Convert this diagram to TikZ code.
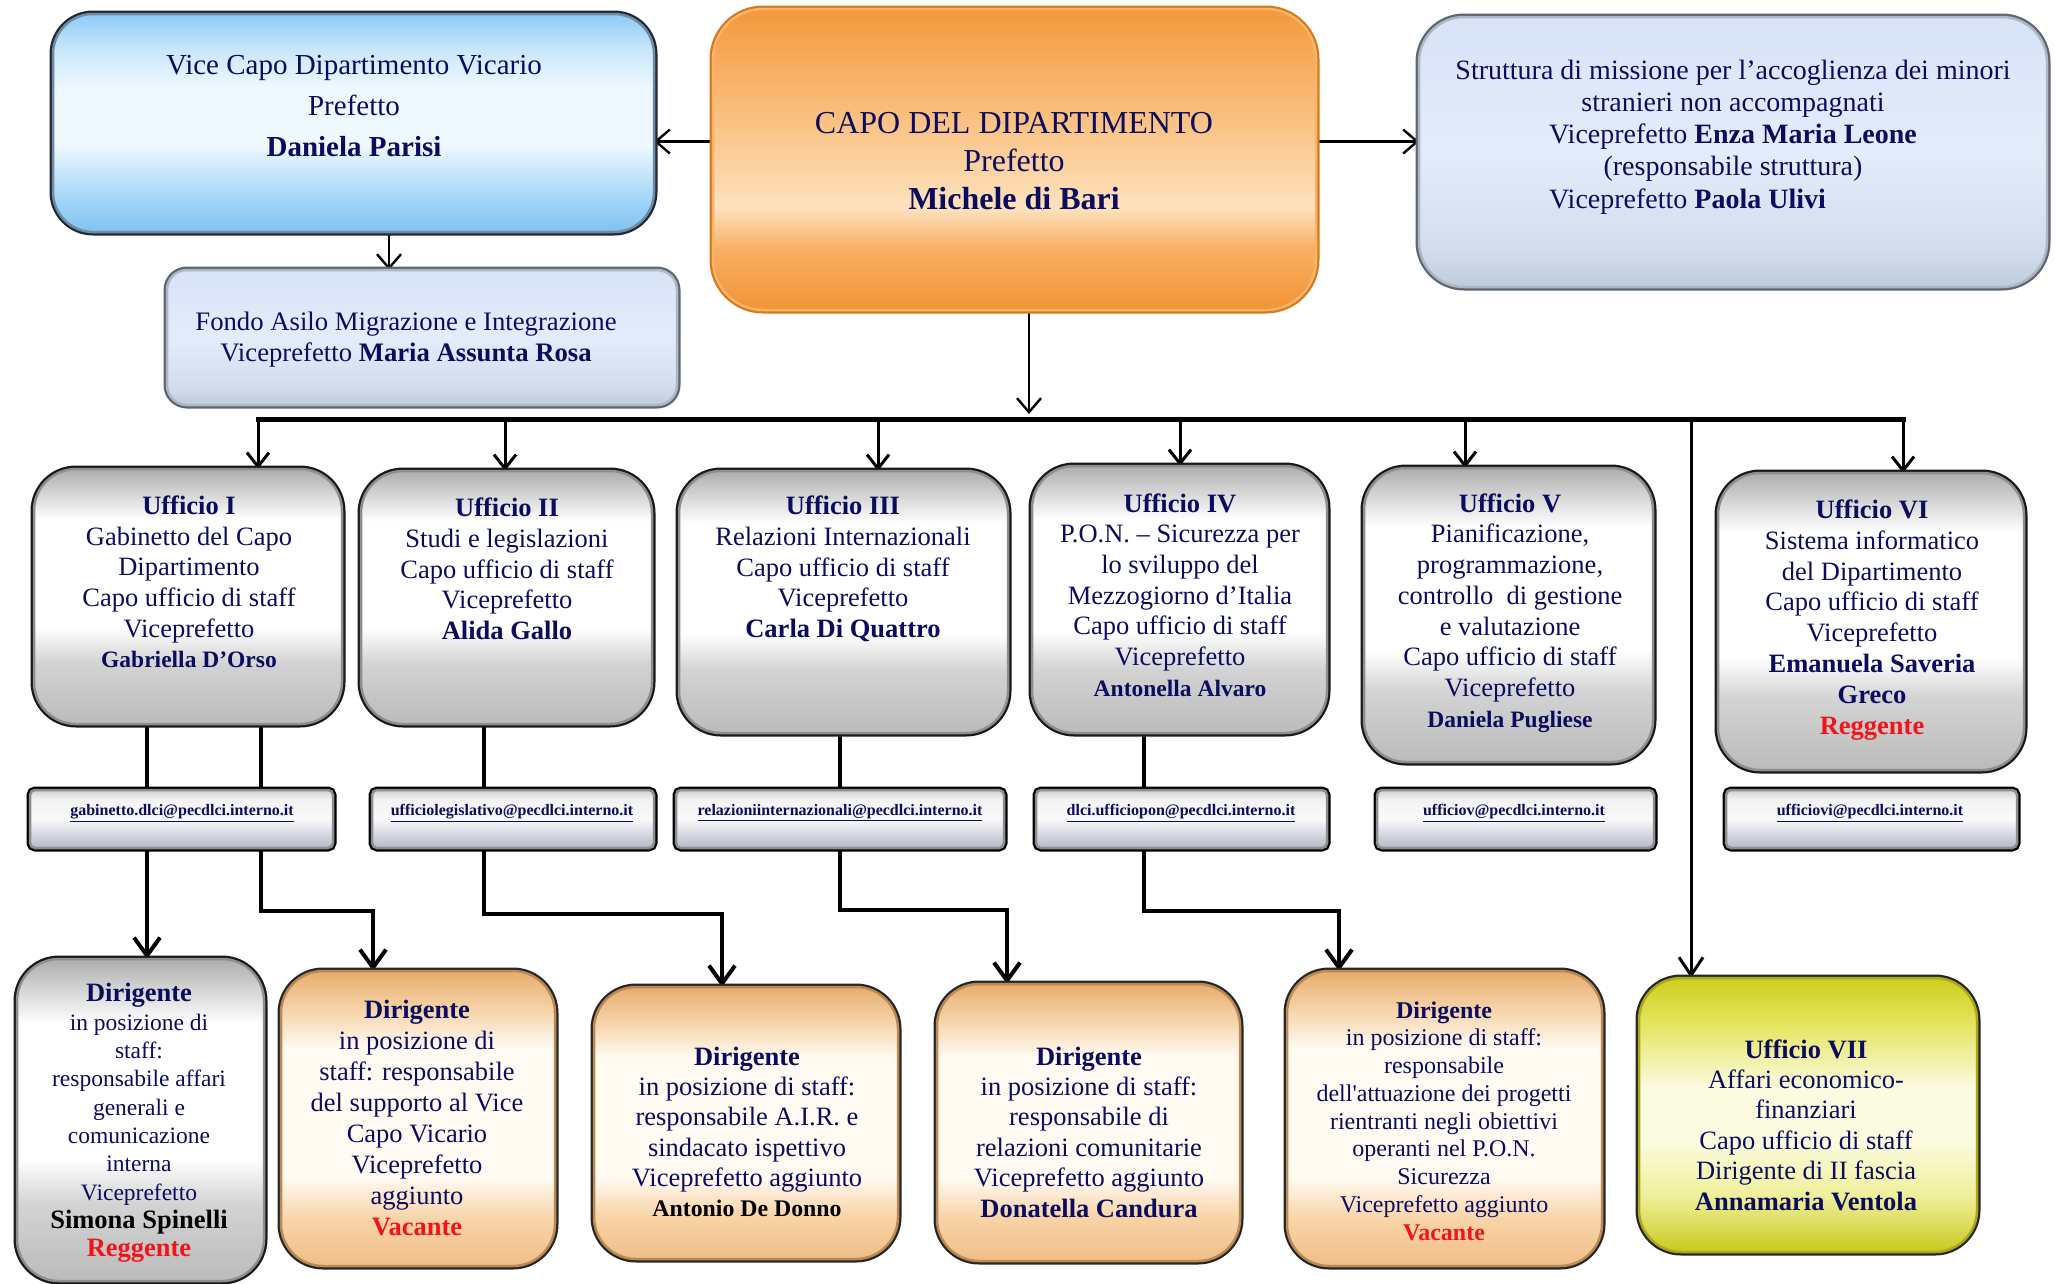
\documentclass[tikz,border=0pt]{standalone}
\usepackage{fontspec}
\setmainfont{Liberation Serif}
\usetikzlibrary{arrows.meta}
\pgfdeclarelayer{back}
\pgfdeclarelayer{conn}
\pgfsetlayers{back,conn,main}

\definecolor{navy}{HTML}{0C0C5E}
\definecolor{redtxt}{HTML}{F2141B}
% silver
\definecolor{svA}{HTML}{ADADAD}
\definecolor{svB}{HTML}{CFCFCF}
\definecolor{svC}{HTML}{FFFFFF}
\definecolor{svD}{HTML}{D3D3D3}
\definecolor{svE}{HTML}{BBBBBB}
% tan (dirigenti)
\definecolor{tnA}{HTML}{E6AD6C}
\definecolor{tnB}{HTML}{F7D6AE}
\definecolor{tnC}{HTML}{FFFAF2}
\definecolor{tnD}{HTML}{F8D4A8}
\definecolor{tnE}{HTML}{F0BE86}
% orange (capo)
\definecolor{orA}{HTML}{F4983C}
\definecolor{orB}{HTML}{F9BE7C}
\definecolor{orC}{HTML}{FDE2BE}
\definecolor{orD}{HTML}{F8AE62}
\definecolor{orE}{HTML}{F39436}
% blue (vice)
\definecolor{blA}{HTML}{8CCBF5}
\definecolor{blB}{HTML}{C8E7FB}
\definecolor{blC}{HTML}{EEF8FE}
\definecolor{blD}{HTML}{A6D7F8}
\definecolor{blE}{HTML}{80C2F1}
% lavender (struttura, fondo)
\definecolor{lvA}{HTML}{D8E3F7}
\definecolor{lvB}{HTML}{E4ECFB}
\definecolor{lvC}{HTML}{D3DDEE}
\definecolor{lvD}{HTML}{BFCCDC}
% yellow (ufficio VII)
\definecolor{ylA}{HTML}{CDCD1E}
\definecolor{ylB}{HTML}{E4E45C}
\definecolor{ylC}{HTML}{FBFBDF}
\definecolor{ylD}{HTML}{EFEF98}
\definecolor{ylE}{HTML}{C9C91C}
% email
\definecolor{emA}{HTML}{CFCFCF}
\definecolor{emB}{HTML}{F2F2F2}
\definecolor{emC}{HTML}{FAFAFA}
\definecolor{emD}{HTML}{D6D8E2}
\definecolor{emE}{HTML}{B4B7C6}
% bevels / borders
\definecolor{bvSilver}{HTML}{8E8E8E}
\definecolor{bvTan}{HTML}{B98A55}
\definecolor{bvYellow}{HTML}{A9A91E}
\definecolor{bdVice}{HTML}{1F2A36}
\definecolor{bvVice}{HTML}{6E8CA6}
\definecolor{bdLav}{HTML}{5E6670}
\definecolor{bvLav}{HTML}{AEB7C4}
\definecolor{bdCapo}{HTML}{D9791C}
\definecolor{bvCapo}{HTML}{F5B56C}

\pgfdeclareverticalshading{silvershade}{100bp}{color(0bp)=(svE); color(25bp)=(svE); color(37bp)=(svD); color(44bp)=(svC); color(65bp)=(svC); color(71bp)=(svB); color(75bp)=(svA); color(100bp)=(svA)}
\pgfdeclareverticalshading{tanshade}{100bp}{color(0bp)=(tnE); color(25bp)=(tnE); color(33bp)=(tnD); color(40bp)=(tnC); color(62bp)=(tnC); color(68bp)=(tnB); color(75bp)=(tnA); color(100bp)=(tnA)}
\pgfdeclareverticalshading{orangeshade}{100bp}{color(0bp)=(orE); color(25bp)=(orE); color(35bp)=(orD); color(42bp)=(orC); color(58bp)=(orB); color(75bp)=(orA); color(100bp)=(orA)}
\pgfdeclareverticalshading{blueshade}{100bp}{color(0bp)=(blE); color(25bp)=(blE); color(33bp)=(blD); color(45bp)=(blC); color(58bp)=(blC); color(67bp)=(blB); color(75bp)=(blA); color(100bp)=(blA)}
\pgfdeclareverticalshading{lavshade}{100bp}{color(0bp)=(lvD); color(25bp)=(lvD); color(32bp)=(lvC); color(50bp)=(lvB); color(75bp)=(lvA); color(100bp)=(lvA)}
\pgfdeclareverticalshading{yellowshade}{100bp}{color(0bp)=(ylE); color(25bp)=(ylE); color(35bp)=(ylD); color(45bp)=(ylC); color(55bp)=(ylC); color(67bp)=(ylB); color(75bp)=(ylA); color(100bp)=(ylA)}
\pgfdeclareverticalshading{emailshade}{100bp}{color(0bp)=(emE); color(25bp)=(emE); color(37bp)=(emD); color(50bp)=(emC); color(67bp)=(emB); color(75bp)=(emA); color(100bp)=(emA)}

\newcommand{\fsz}[2]{\fontsize{#1}{#2}\selectfont}

\tikzset{
  boxbase/.style={shade, inner sep=0pt, outer sep=0pt},
  bevel/.style 2 args={preaction={draw=#1, line width=7pt}, draw=#2, line width=2.5pt},
  officebox/.style={boxbase, shading=silvershade, rounded corners=42pt, bevel={black!90}{bvSilver}},
  dirbox/.style={boxbase, shading=tanshade, rounded corners=42pt, bevel={black!85}{bvTan}},
  yellowbox/.style={boxbase, shading=yellowshade, rounded corners=42pt, bevel={black!85}{bvYellow}},
  emailbox/.style={boxbase, shading=emailshade, rounded corners=5pt, bevel={black}{bvSilver}},
  vicebox/.style={boxbase, shading=blueshade, rounded corners=40pt, bevel={bdVice}{bvVice}},
  capobox/.style={boxbase, shading=orangeshade, rounded corners=50pt, bevel={bdCapo}{bvCapo}},
  lavbox/.style={boxbase, shading=lavshade, rounded corners=45pt, bevel={bdLav}{bvLav}},
  fondobox/.style={boxbase, shading=lavshade, rounded corners=20pt, bevel={bdLav}{bvLav}},
  txt/.style={align=center, inner sep=0pt, outer sep=0pt, text=navy},
  mail/.style={inner sep=0pt, text=navy, font=\fsz{16}{18}\bfseries},
  thinarr/.style={line width=2.4pt, -{Straight Barb[length=14pt,width=24pt,line width=2.4pt]}},
  droparr/.style={line width=3pt, -{Straight Barb[length=14pt,width=22pt,line width=3pt]}},
  vertarr/.style={line width=3pt, -{Straight Barb[length=18pt,width=24pt,line width=3pt]}},
  lowarr/.style={line width=4pt, -{Straight Barb[length=18pt,width=26pt,line width=4pt]}},
  busline/.style={line width=5pt, line cap=rect},
}

\begin{document}
\begin{tikzpicture}[x=1pt,y=-1pt]
\useasboundingbox (0,0) rectangle (2055,1283);
\begin{pgfonlayer}{back}
\fill[white] (0,0) rectangle (2055,1283);
\end{pgfonlayer}

% ---------- top row ----------
\node[vicebox, minimum width=601pt, minimum height=218pt] (vice) at (353.5,123) {};
\node[txt, font=\fsz{29}{41}] (viceT) at (354,106) {Vice Capo Dipartimento Vicario\\Prefetto\\\textbf{Daniela Parisi}};

\node[capobox, minimum width=603pt, minimum height=301pt] (capo) at (1014.5,159.5) {};
\node[txt, font=\fsz{32}{38}] (capoT) at (1014,161) {CAPO DEL DIPARTIMENTO\\Prefetto\\\textbf{Michele di Bari}};

\node[lavbox, minimum width=628pt, minimum height=270pt] (strutt) at (1733,152) {};
\node[txt, font=\fsz{28}{32.2}] (struttT) at (1733,137) {Struttura di missione per l’accoglienza dei minori\\stranieri non accompagnati\\Viceprefetto \textbf{Enza Maria Leone}\\(responsabile struttura)\\\rlap{Viceprefetto \textbf{Paola Ulivi}}\phantom{Viceprefetto \textbf{Enza Maria Leone}}};

\node[fondobox, minimum width=510pt, minimum height=135pt] (fondo) at (422,337.5) {};
\node[txt, font=\fsz{26.7}{31}] (fondoT) at (406,340) {Fondo Asilo Migrazione e Integrazione\\Viceprefetto \textbf{Maria Assunta Rosa}};

% ---------- offices ----------
\node[officebox, minimum width=308pt, minimum height=255pt] (u1) at (188,596.5) {};
\node[txt, font=\fsz{26.5}{30.7}] (u1T) at (189,582) {\textbf{Ufficio I}\\Gabinetto del Capo\\Dipartimento\\Capo ufficio di staff\\Viceprefetto\\{\fsz{23.5}{30.7}\textbf{Gabriella D’Orso}}};

\node[officebox, minimum width=291pt, minimum height=253pt] (u2) at (506.5,597.5) {};
\node[txt, font=\fsz{26.5}{30.7}] (u2T) at (507,569) {\textbf{Ufficio II}\\Studi e legislazioni\\Capo ufficio di staff\\Viceprefetto\\\textbf{Alida Gallo}};

\node[officebox, minimum width=329pt, minimum height=262pt] (u3) at (843.5,602) {};
\node[txt, font=\fsz{26.5}{30.7}] (u3T) at (843,569) {\textbf{Ufficio III}\\Relazioni Internazionali\\Capo ufficio di staff\\Viceprefetto\\\textbf{Carla Di Quattro}};

\node[officebox, minimum width=295pt, minimum height=267pt] (u4) at (1179.5,599.5) {};
\node[txt, font=\fsz{26.5}{30.7}] (u4T) at (1180,595) {\textbf{Ufficio IV}\\P.O.N. – Sicurezza per\\lo sviluppo del\\Mezzogiorno d’Italia\\Capo ufficio di staff\\Viceprefetto\\{\fsz{23.5}{30.7}\textbf{Antonella Alvaro}}};

\node[officebox, minimum width=289pt, minimum height=294pt] (u5) at (1508.5,615) {};
\node[txt, font=\fsz{26.5}{30.7}] (u5T) at (1510,613) {\textbf{Ufficio V}\\Pianificazione,\\programmazione,\\controllo\ \ di gestione\\e valutazione\\Capo ufficio di staff\\Viceprefetto\\{\fsz{23.5}{30.7}\textbf{Daniela Pugliese}}};

\node[officebox, minimum width=306pt, minimum height=297pt] (u6) at (1871,621.5) {};
\node[txt, font=\fsz{26.5}{30.9}] (u6T) at (1872,620) {\textbf{Ufficio VI}\\Sistema informatico\\del Dipartimento\\Capo ufficio di staff\\Viceprefetto\\\textbf{Emanuela Saveria}\\\textbf{Greco}\\\textcolor{redtxt}{\textbf{Reggente}}};

% ---------- e-mail boxes ----------
\node[emailbox, minimum width=303pt, minimum height=58pt] (e1) at (181.5,819) {};
\node[mail] (e1T) at (182,813) {\underline{gabinetto.dlci@pecdlci.interno.it}};
\node[emailbox, minimum width=282pt, minimum height=58pt] (e2) at (513,819) {};
\node[mail] (e2T) at (512,813) {\underline{ufficiolegislativo@pecdlci.interno.it}};
\node[emailbox, minimum width=328pt, minimum height=58pt] (e3) at (840,819) {};
\node[mail] (e3T) at (840,813) {\underline{relazioniinternazionali@pecdlci.interno.it}};
\node[emailbox, minimum width=291pt, minimum height=58pt] (e4) at (1181.5,819) {};
\node[mail] (e4T) at (1181,813) {\underline{dlci.ufficiopon@pecdlci.interno.it}};
\node[emailbox, minimum width=277pt, minimum height=58pt] (e5) at (1515.5,819) {};
\node[mail] (e5T) at (1514,813) {\underline{ufficiov@pecdlci.interno.it}};
\node[emailbox, minimum width=291pt, minimum height=58pt] (e6) at (1871.5,819) {};
\node[mail] (e6T) at (1870,813) {\underline{ufficiovi@pecdlci.interno.it}};

% ---------- bottom row ----------
\node[officebox, minimum width=247pt, minimum height=322pt] (d1) at (140.5,1120) {};
\node[txt, font=\fsz{23.5}{28.3}] (d1T) at (139,1123) {{\fsz{26.5}{28.3}\textbf{Dirigente}}\\in posizione di\\staff:\\responsabile affari\\generali e\\comunicazione\\interna\\Viceprefetto\\{\fsz{26.5}{28.3}\textcolor{black}{\textbf{Simona Spinelli}}}\\{\fsz{26.5}{28.3}\textcolor{redtxt}{\textbf{Reggente}}}};

\node[dirbox, minimum width=274pt, minimum height=295pt] (d2) at (418,1118.5) {};
\node[txt, font=\fsz{26.5}{30.9}] (d2T) at (417,1118) {\textbf{Dirigente}\\in posizione di\\staff: responsabile\\del supporto al Vice\\Capo Vicario\\Viceprefetto\\aggiunto\\\textcolor{redtxt}{\textbf{Vacante}}};

\node[dirbox, minimum width=304pt, minimum height=272pt] (d3) at (746,1123) {};
\node[txt, font=\fsz{26.5}{30.2}] (d3T) at (747,1132) {\textbf{Dirigente}\\in posizione di staff:\\responsabile A.I.R. e\\sindacato ispettivo\\Viceprefetto aggiunto\\{\fsz{23.8}{30.2}\textcolor{black}{\textbf{Antonio De Donno}}}};

\node[dirbox, minimum width=303pt, minimum height=277pt] (d4) at (1088.5,1122.5) {};
\node[txt, font=\fsz{26.5}{30.4}] (d4T) at (1089,1132) {\textbf{Dirigente}\\in posizione di staff:\\responsabile di\\relazioni comunitarie\\Viceprefetto aggiunto\\\textbf{Donatella Candura}};

\node[dirbox, minimum width=315pt, minimum height=295pt] (d5) at (1444.5,1118.5) {};
\node[txt, font=\fsz{24}{27.75}] (d5T) at (1444,1121) {\textbf{Dirigente}\\in posizione di staff:\\responsabile\\dell\textquotesingle attuazione dei progetti\\rientranti negli obiettivi\\operanti nel P.O.N.\\Sicurezza\\Viceprefetto aggiunto\\\textcolor{redtxt}{\textbf{Vacante}}};

\node[yellowbox, minimum width=338pt, minimum height=274pt] (u7) at (1808,1115) {};
\node[txt, font=\fsz{26.5}{30.4}] (u7T) at (1806,1125) {\textbf{Ufficio VII}\\Affari economico-\\finanziari\\Capo ufficio di staff\\Dirigente di II fascia\\\textbf{Annamaria Ventola}};

% ---------- helper coordinates ----------
\coordinate (ya) at (0,141.5);
\coordinate (xv) at (389,0);
\coordinate (cdown) at (1029,414);
\coordinate (busL) at (258,419);
\coordinate (busR) at (1903,419);
\coordinate (b1) at (258,419);
\coordinate (b2) at (505,419);
\coordinate (b3) at (878,419);
\coordinate (b4) at (1180,419);
\coordinate (b5) at (1465,419);
\coordinate (b6) at (1903,419);
\coordinate (b7) at (1691,419);
\coordinate (k1) at (147,0);
\coordinate (k2a) at (261,911);
\coordinate (k2b) at (373,911);
\coordinate (k3a) at (484,914);
\coordinate (k3b) at (722,914);
\coordinate (k4a) at (840,910);
\coordinate (k4b) at (1007,910);
\coordinate (k5a) at (1144,911);
\coordinate (k5b) at (1339,911);

% ---------- connectors ----------
\begin{pgfonlayer}{conn}
\draw[thinarr] (capo.west |- ya) -- (vice.east |- ya);
\draw[thinarr] (capo.east |- ya) -- (strutt.west |- ya);
\draw[thinarr] (vice.south -| xv) -- (fondo.north -| xv);
\draw[thinarr] (capo.south -| cdown) -- (cdown);
\draw[busline] (busL) -- (busR);
\draw[droparr] (b1) -- (b1 |- u1.north);
\draw[droparr] (b2) -- (b2 |- u2.north);
\draw[droparr] (b3) -- (b3 |- u3.north);
\draw[droparr] (b4) -- (b4 |- u4.north);
\draw[droparr] (b5) -- (b5 |- u5.north);
\draw[droparr] (b6) -- (b6 |- u6.north);
\draw[vertarr] (b7) -- (b7 |- u7.north);
\draw[lowarr] (u1.south -| k1) -- (d1.north -| k1);
\draw[lowarr] (u1.south -| k2a) -- (k2a) -- (k2b) -- (d2.north -| k2b);
\draw[lowarr] (u2.south -| k3a) -- (k3a) -- (k3b) -- (d3.north -| k3b);
\draw[lowarr] (u3.south -| k4a) -- (k4a) -- (k4b) -- (d4.north -| k4b);
\draw[lowarr] (u4.south -| k5a) -- (k5a) -- (k5b) -- (d5.north -| k5b);
\end{pgfonlayer}
\end{tikzpicture}
\end{document}
